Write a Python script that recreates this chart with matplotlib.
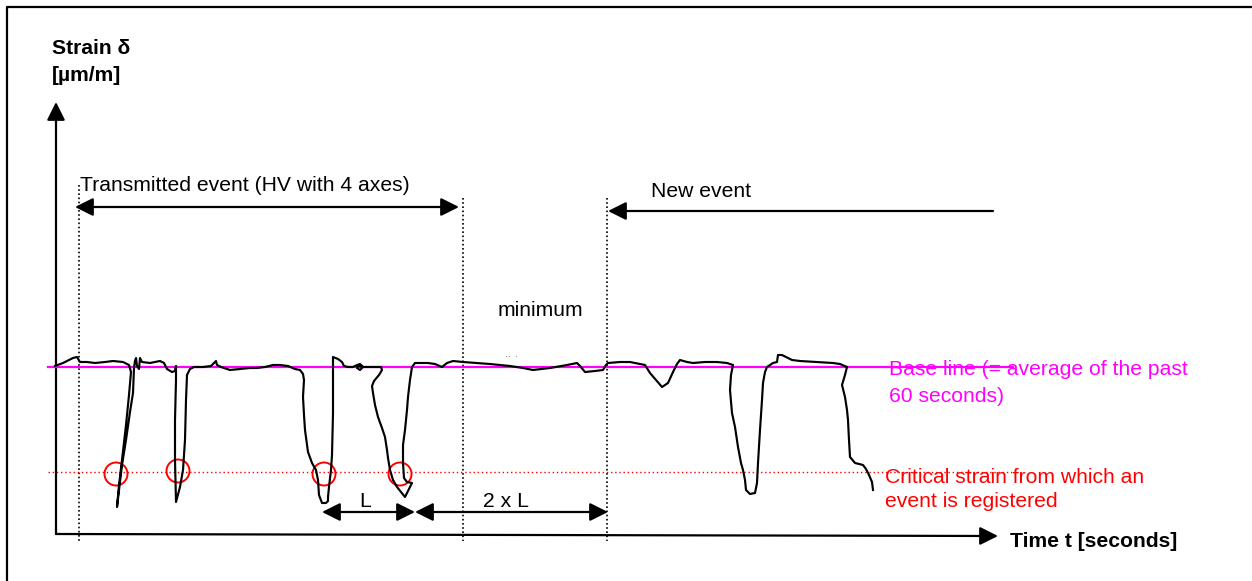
import matplotlib
matplotlib.use("Agg")
import matplotlib.pyplot as plt
from matplotlib.patches import FancyArrowPatch, Circle

plt.rcParams['font.family'] = ['Liberation Sans', 'DejaVu Sans']

# ---- data (time in drawing units, strain relative to base line; negative = below) ----
time_t = [55, 63, 73, 77, 80, 87, 95, 105, 113, 123, 129, 131, 129, 126, 122, 119, 117,
          119, 122, 126, 130, 133, 134, 135, 136, 137, 139, 140, 142, 150, 160, 164, 167,
          172, 175, 176, 176, 175, 175, 176, 180, 183, 185, 186, 187, 190, 194, 203, 211,
          214, 216, 217, 221, 230, 240, 250, 257, 265, 273, 280, 288, 295, 300, 303, 304,
          303, 304, 305, 308, 312, 316, 318, 319, 322, 326, 328, 328, 329, 331, 332, 333,
          333, 338, 342, 344, 348, 353, 357, 360, 363, 360, 357, 358, 364, 372, 381, 382,
          379, 374, 372, 373, 375, 378, 382, 385, 387, 388, 390, 393, 397, 401, 405, 409,
          412, 407, 404, 403, 403, 405, 407, 408, 410, 412, 415, 428, 435, 442, 447, 453,
          463, 490, 510, 523, 533, 550, 567, 577, 580, 585, 595, 603, 606, 608, 620, 630,
          645, 650, 656, 662, 668, 673, 677, 680, 687, 693, 705, 717, 727, 733, 731, 730,
          732, 735, 738, 741, 743, 745, 746, 750, 755, 757, 758, 760, 762, 763, 765, 767,
          773, 777, 778, 782, 792, 800, 817, 833, 840, 847, 845, 842, 845, 847, 848, 849,
          850, 855, 863, 866, 869, 872, 873]
strain = [1, 4, 9, 10, 5, 5, 4, 5, 6, 5, 2, -5, -28, -58, -93, -118, -140,
          -123, -98, -73, -45, -26, -1, 6, 9, 1, -2, 9, 5, 4, 6, 4, -2,
          -5, -4, 1, -13, -53, -93, -135, -120, -103, -73, -33, -8, -2, 0, 0, 1,
          4, 6, 2, 0, -3, -2, -1, -1, 0, 2, 2, 1, -2, -3, -7, -13,
          -30, -48, -63, -85, -96, -103, -113, -128, -136, -136, -134, -130, -120, -103, -88, -46,
          10, 8, 5, 1, 0, 0, 2, 3, 0, -3, -1, 1, 0, 0, 0, -3,
          -8, -14, -19, -26, -38, -50, -61, -70, -83, -91, -103, -113, -120, -125, -130, -122,
          -116, -115, -111, -96, -78, -63, -43, -30, -13, 0, 4, 4, 3, 0, 4, 6,
          5, 3, 1, -1, -3, -1, 2, 4, 1, -5, -4, -3, 2, 4, 5, 5,
          2, -6, -13, -20, -16, -5, 3, 7, 5, 4, 5, 5, 4, 2, -8, -23,
          -46, -60, -80, -96, -103, -113, -123, -127, -126, -116, -96, -63, -33, -16, -5, 0,
          4, 5, 12, 12, 7, 6, 5, 4, 3, 0, -8, -18, -30, -43, -53, -73,
          -90, -96, -98, -102, -108, -115, -123]

base_strain = 0
critical_strain = -105
# events where the curve crosses the critical strain
cross_t = [116, 178, 324, 400]
cross_strain = [-107, -104, -107, -107]

# event boundaries (time)
t_event_start, t_event_end, t_new_event, t_L_start, t_L_end = 79, 463, 607, 322, 415

# ---- figure ----
W, H = 1252, 581
fig = plt.figure(figsize=(W / 100, H / 100), dpi=100)
ax = fig.add_axes([0, 0, 1, 1])
Y0 = 367  # pixel row of the base line
ax.set_xlim(0, W)
ax.set_ylim(Y0 - H, Y0)
ax.axis('off')

def s(ypix):
    return Y0 - ypix

FS = 15.2
BLACK = '#000000'
MAG = '#FF00FF'
RED = '#FF0000'

# outer frame
ax.plot([7, 7, W + 5], [s(H + 5), s(6.5), s(6.5)], color=BLACK, lw=1.6, solid_capstyle='projecting')

def arrow(x1, y1, x2, y2, both=False, lw=1.6):
    style = '<|-|>' if both else '-|>'
    a = FancyArrowPatch((x1, y1), (x2, y2), arrowstyle=f'{style},head_length=1.1,head_width=0.55',
                        mutation_scale=10, color=BLACK, lw=lw, shrinkA=0, shrinkB=0,
                        transform=ax.transData)
    ax.add_patch(a)

# axes arrows
arrow(56, s(534), 56, s(102))
arrow(56, s(534), 998, s(536))

# vertical dotted lines
for xv, ytop in [(t_event_start, 185), (t_event_end, 198), (t_new_event, 198)]:
    ax.plot([xv, xv], [s(ytop), s(541)], color=BLACK, lw=1.2, ls=(0, (1, 1.5)))

# base line and critical line
ax.plot([48, 1013], [base_strain, base_strain], color=MAG, lw=1.6)
ax.plot([48, 1013], [critical_strain, critical_strain], color=RED, lw=1.0, ls=(0, (1, 2)))

# strain curve
ax.plot(time_t, strain, color=BLACK, lw=1.55, solid_joinstyle='round')

# critical crossing circles
for tc, sc in zip(cross_t, cross_strain):
    ax.add_patch(Circle((tc, sc), 11.5, fill=False, edgecolor=RED, lw=1.4))

# dimension arrows
arrow(75, s(207), 459, s(207), both=True)
arrow(993, s(211), 608, s(211))
arrow(t_L_start, s(512), t_L_end, s(512), both=True)
arrow(t_L_end, s(512), t_new_event + 1, s(512), both=True)

# texts
ax.text(52, s(54), 'Strain δ', fontsize=FS, fontweight='bold', va='baseline')
ax.text(52, s(81), '[µm/m]', fontsize=FS, fontweight='bold', va='baseline')
ax.text(1010, s(547), 'Time t [seconds]', fontsize=FS, fontweight='bold', va='baseline')
ax.text(80, s(191), 'Transmitted event (HV with 4 axes)', fontsize=FS, va='baseline')
ax.text(651, s(197), 'New event', fontsize=FS, va='baseline')
ax.text(498, s(316), 'minimum', fontsize=FS, va='baseline')
ax.text(505, s(359), '··  ·', fontsize=6, va='baseline', color='#555555')
ax.text(365, s(507), 'L', fontsize=FS, va='baseline', ha='center')
ax.text(506, s(507), '2 x L', fontsize=FS, va='baseline', ha='center')
ax.text(889, s(375), 'Base line (= average of the past', fontsize=FS, va='baseline', color=MAG)
ax.text(889, s(402), '60 seconds)', fontsize=FS, va='baseline', color=MAG)
ax.text(885, s(483), 'Critical strain from which an', fontsize=FS, va='baseline', color=RED)
ax.text(885, s(507), 'event is registered', fontsize=FS, va='baseline', color=RED)

fig.savefig('out.png', dpi=100)
